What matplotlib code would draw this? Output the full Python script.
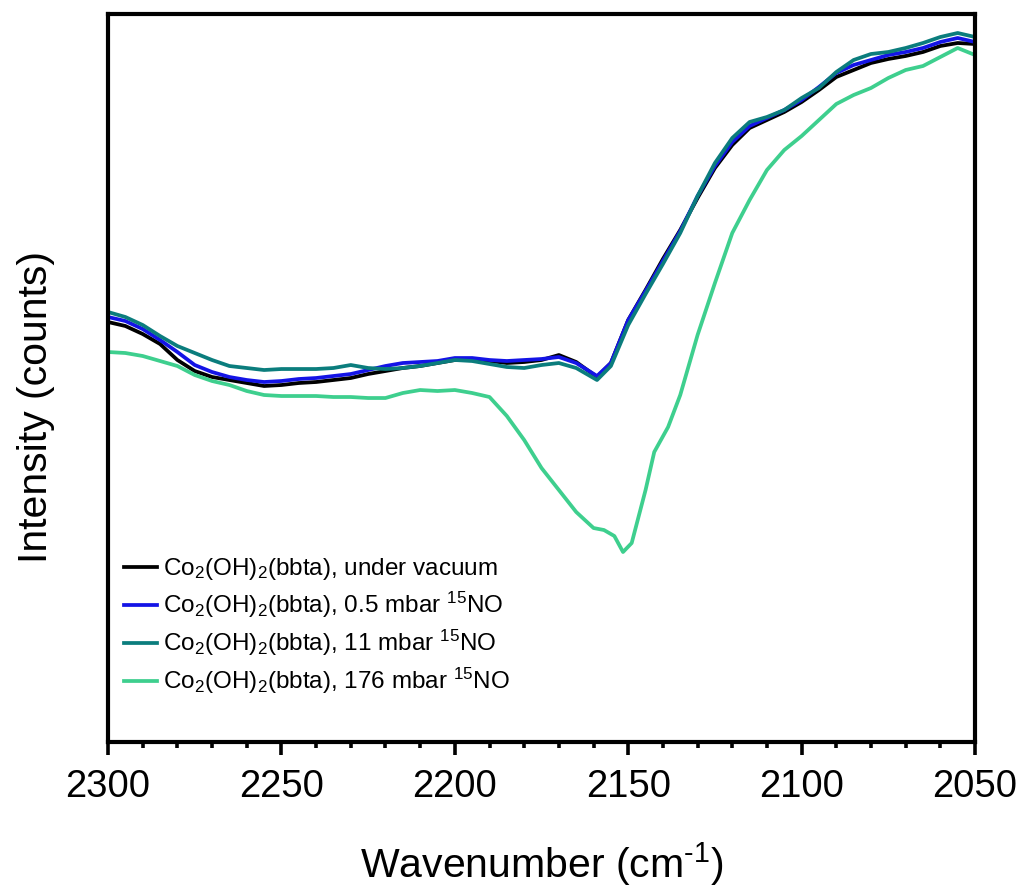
import matplotlib
matplotlib.use('Agg')
import matplotlib.pyplot as plt
import numpy as np
from matplotlib.ticker import MultipleLocator

plt.rcParams['font.family'] = ['Liberation Sans', 'DejaVu Sans']
plt.rcParams['mathtext.fontset'] = 'custom'
plt.rcParams['mathtext.rm'] = 'Liberation Sans'
plt.rcParams['mathtext.it'] = 'Liberation Sans:italic'

# wavenumber grid (cm-1) shared by the three low-pressure spectra
wn = [2300, 2295, 2290, 2285, 2280, 2275, 2270, 2265, 2260, 2255, 2250, 2245,
      2240, 2235, 2230, 2225, 2220, 2215, 2210, 2205, 2200, 2195, 2190, 2185,
      2180, 2175, 2170, 2165, 2159, 2155, 2150, 2145, 2140, 2135, 2130, 2125,
      2120, 2115, 2110, 2105, 2100, 2095, 2090, 2085, 2080, 2075, 2070, 2065,
      2060, 2055, 2050]

vacuum = [420, 416, 408, 398, 382, 371, 365, 362, 359, 356, 357, 359,
          360, 362, 364, 368, 371, 374, 376, 379, 382, 383, 381, 379,
          380, 382, 387, 380, 365, 379, 422, 452, 483, 512, 544, 574,
          597, 614, 622, 630, 640, 652, 665, 672, 679, 683, 686, 690,
          696, 699, 698]

no_05 = [425, 421, 413, 402, 390, 377, 370, 365, 362, 360, 361, 363,
         364, 366, 368, 372, 376, 379, 380, 381, 384, 384, 382, 381,
         382, 383, 385, 379, 366, 379, 422, 451, 481, 511, 546, 576,
         600, 616, 624, 632, 642, 655, 669, 677, 682, 687, 690, 694,
         700, 704, 700]

no_11 = [430, 425, 417, 406, 396, 389, 382, 376, 374, 372, 373, 373,
         373, 374, 377, 374, 373, 374, 376, 379, 382, 381, 378, 375,
         374, 377, 379, 374, 362, 376, 417, 448, 478, 509, 546, 579,
         604, 620, 625, 632, 644, 654, 670, 682, 688, 690, 694, 699,
         705, 709, 705]

# 176 mbar spectrum has its own grid around the 2150 band
wn_176 = [2300, 2295, 2290, 2285, 2280, 2275, 2270, 2265, 2260, 2255, 2250,
          2245, 2240, 2235, 2230, 2225, 2220, 2215, 2210, 2205, 2200, 2195,
          2190, 2185, 2180, 2175, 2170, 2165, 2160, 2157, 2154, 2151.5, 2149,
          2145, 2142.5, 2138.5, 2135, 2130, 2125, 2120, 2115, 2110, 2105,
          2100, 2095, 2090, 2085, 2080, 2075, 2070, 2065, 2060, 2055, 2050]

no_176 = [390, 389, 386, 381, 376, 367, 361, 357, 351, 347, 346,
          346, 346, 345, 345, 344, 344, 349, 352, 351, 352, 349,
          345, 326, 302, 274, 252, 230, 214, 212, 206, 190, 199,
          252, 290, 315, 347, 407, 459, 509, 542, 572, 592,
          606, 622, 638, 647, 654, 664, 672, 676, 685, 694, 687]

labels = [r'Co$_2$(OH)$_2$(bbta), under vacuum',
          r'Co$_2$(OH)$_2$(bbta), 0.5 mbar $^{15}$NO',
          r'Co$_2$(OH)$_2$(bbta), 11 mbar $^{15}$NO',
          r'Co$_2$(OH)$_2$(bbta), 176 mbar $^{15}$NO']
colors = ['black', '#1414e6', '#0b7d7d', '#3ecf8e']

fig = plt.figure(figsize=(10.23, 8.86), dpi=100)
ax = fig.add_axes([0.1056, 0.1625, 0.8475, 0.8217])

ax.plot(wn, vacuum, color=colors[0], lw=2.7, label=labels[0])
ax.plot(wn, no_05, color=colors[1], lw=2.7, label=labels[1])
ax.plot(wn, no_11, color=colors[2], lw=2.7, label=labels[2])
ax.plot(wn_176, no_176, color=colors[3], lw=2.7, label=labels[3])

ax.set_xlim(2300, 2050)
ax.set_ylim(0, 728)

ax.xaxis.set_major_locator(MultipleLocator(50))
ax.xaxis.set_minor_locator(MultipleLocator(10))
ax.tick_params(axis='x', which='major', direction='out', length=9.5, width=2.6,
               labelsize=27.5, pad=10, top=False)
ax.tick_params(axis='x', which='minor', direction='out', length=4.5, width=2.6,
               top=False)
ax.set_yticks([])

for spine in ax.spines.values():
    spine.set_linewidth(3)

ax.set_xlabel(r'Wavenumber (cm$^{\text{-}1}$)', fontsize=29.5, labelpad=25)
ax.set_ylabel('Intensity (counts)', fontsize=29.5)
ax.yaxis.set_label_coords(-0.061, 0.46)

ax.legend(loc='lower left', bbox_to_anchor=(-0.007, 0.033), frameon=False,
          fontsize=17.5, handlelength=1.36, handletextpad=0.25, labelspacing=0.32)

fig.savefig('out.png', dpi=100)
